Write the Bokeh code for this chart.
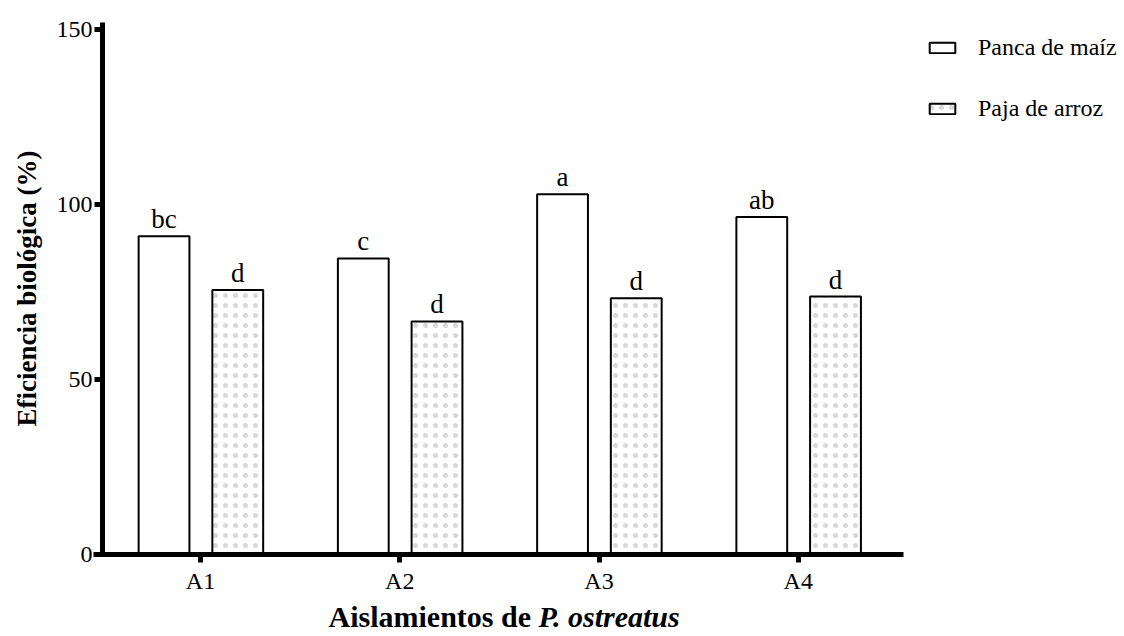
from bokeh.plotting import figure
from bokeh.models import Range1d, FixedTicker, Legend, LegendItem, ColumnDataSource
from bokeh.core.properties import value
from bokeh.embed import file_html
from bokeh.resources import INLINE

# ---- data ----
categories = ["A1", "A2", "A3", "A4"]
panca_maiz = [90.9, 84.6, 102.9, 96.4]
paja_arroz = [75.6, 66.6, 73.2, 73.7]
letters_maiz = ["bc", "c", "a", "ab"]
letters_arroz = ["d", "d", "d", "d"]
y_ticks = [0, 50, 100, 150]
series_names = ["Panca de maíz", "Paja de arroz"]
x_title_plain = "Aislamientos de "
x_title_italic = "P. ostreatus"
y_title = "Eficiencia biológica (%)"

FONT = "Liberation Serif"
W, H = 1120, 632
# layout anchors (pixels)
PX, PY = 199.25, 3.5          # px per category step, px per % unit
X0_PX, Y0_PX = 200, 554       # pixel of category 1 / value 0
pos = [i + 1 for i in range(len(categories))]
off_m, off_a, bw = -0.183, 0.187, 0.255

def xd(px):
    return 1 + (px - X0_PX) / PX

def yd(py):
    return (Y0_PX - py) / PY

p = figure(width=W, height=H, output_backend="svg", toolbar_location=None,
           x_range=Range1d(xd(0), xd(W)), y_range=Range1d(yd(H), yd(0)),
           min_border=0, min_border_left=0, min_border_right=0,
           min_border_top=0, min_border_bottom=0)
p.outline_line_color = None
p.xgrid.visible = False
p.ygrid.visible = False

src_m = ColumnDataSource(dict(x=[v + off_m for v in pos], top=panca_maiz, lab=letters_maiz))
src_a = ColumnDataSource(dict(x=[v + off_a for v in pos], top=paja_arroz, lab=letters_arroz))

bar_m = dict(fill_color="white", line_color="black", line_width=2)
bar_a = dict(fill_color="white", line_color="black", line_width=2, hatch_pattern="dot",
             hatch_color="#a8a8a8", hatch_scale=10, hatch_weight=0.8, hatch_alpha=0.45)

rm = p.vbar(x="x", top="top", width=bw, source=src_m, **bar_m)
ra = p.vbar(x="x", top="top", width=bw, source=src_a, **bar_a)

for s in (src_m, src_a):
    p.text(x="x", y="top", text="lab", source=s, text_align="center", text_baseline="bottom",
           y_offset=-2, text_font=value(FONT), text_font_size="27px", text_color="black")

for ax in (p.xaxis[0], p.yaxis[0]):
    ax.axis_line_width = 5
    ax.axis_line_color = "black"
    ax.major_tick_line_width = 5
    ax.major_tick_in = 0
    ax.major_tick_out = 8
    ax.minor_tick_line_color = None
    ax.major_label_text_font = FONT
    ax.major_label_text_font_size = "24px"
    ax.major_label_text_color = "black"

p.yaxis.fixed_location = xd(102)
p.yaxis.bounds = (y_ticks[0], y_ticks[-1] + 2)
p.yaxis.ticker = FixedTicker(ticks=y_ticks)
p.yaxis.major_label_standoff = 2
p.yaxis.axis_label = y_title
p.yaxis.axis_label_text_font = FONT
p.yaxis.axis_label_text_font_style = "bold"
p.yaxis.axis_label_text_font_size = "27px"
p.yaxis.axis_label_text_color = "black"
p.yaxis.axis_label_standoff = 12

p.xaxis.fixed_location = 0
p.xaxis.bounds = (xd(93), xd(903))
p.xaxis.ticker = FixedTicker(ticks=pos)
p.xaxis.major_label_overrides = {v: c for v, c in zip(pos, categories)}
p.xaxis.major_label_standoff = 5

# x-axis title (bold + bold italic), centred under the axis
split = xd(538)
mid = yd(616)
p.text(x=[split], y=[mid], text=[x_title_plain], text_align="right", text_baseline="middle",
       text_font=value(FONT), text_font_style="bold", text_font_size="30px", text_color="black")
p.text(x=[split], y=[mid], text=[x_title_italic], text_align="left", text_baseline="middle",
       text_font=value(FONT), text_font_style="bold italic", text_font_size="30px", text_color="black")

legend = Legend(items=[LegendItem(label=series_names[0], renderers=[rm]),
                       LegendItem(label=series_names[1], renderers=[ra])],
                location=(926, H - 122), orientation="vertical")
legend.border_line_color = None
legend.background_fill_alpha = 0
legend.label_text_font = FONT
legend.label_text_font_size = "24px"
legend.label_text_color = "black"
legend.label_height = 26
legend.glyph_width = 32
legend.glyph_height = 13
legend.label_standoff = 20
legend.spacing = 34
legend.padding = 0
legend.margin = 0
p.add_layout(legend, "center")

open("out.html", "w").write(file_html(p, INLINE))
